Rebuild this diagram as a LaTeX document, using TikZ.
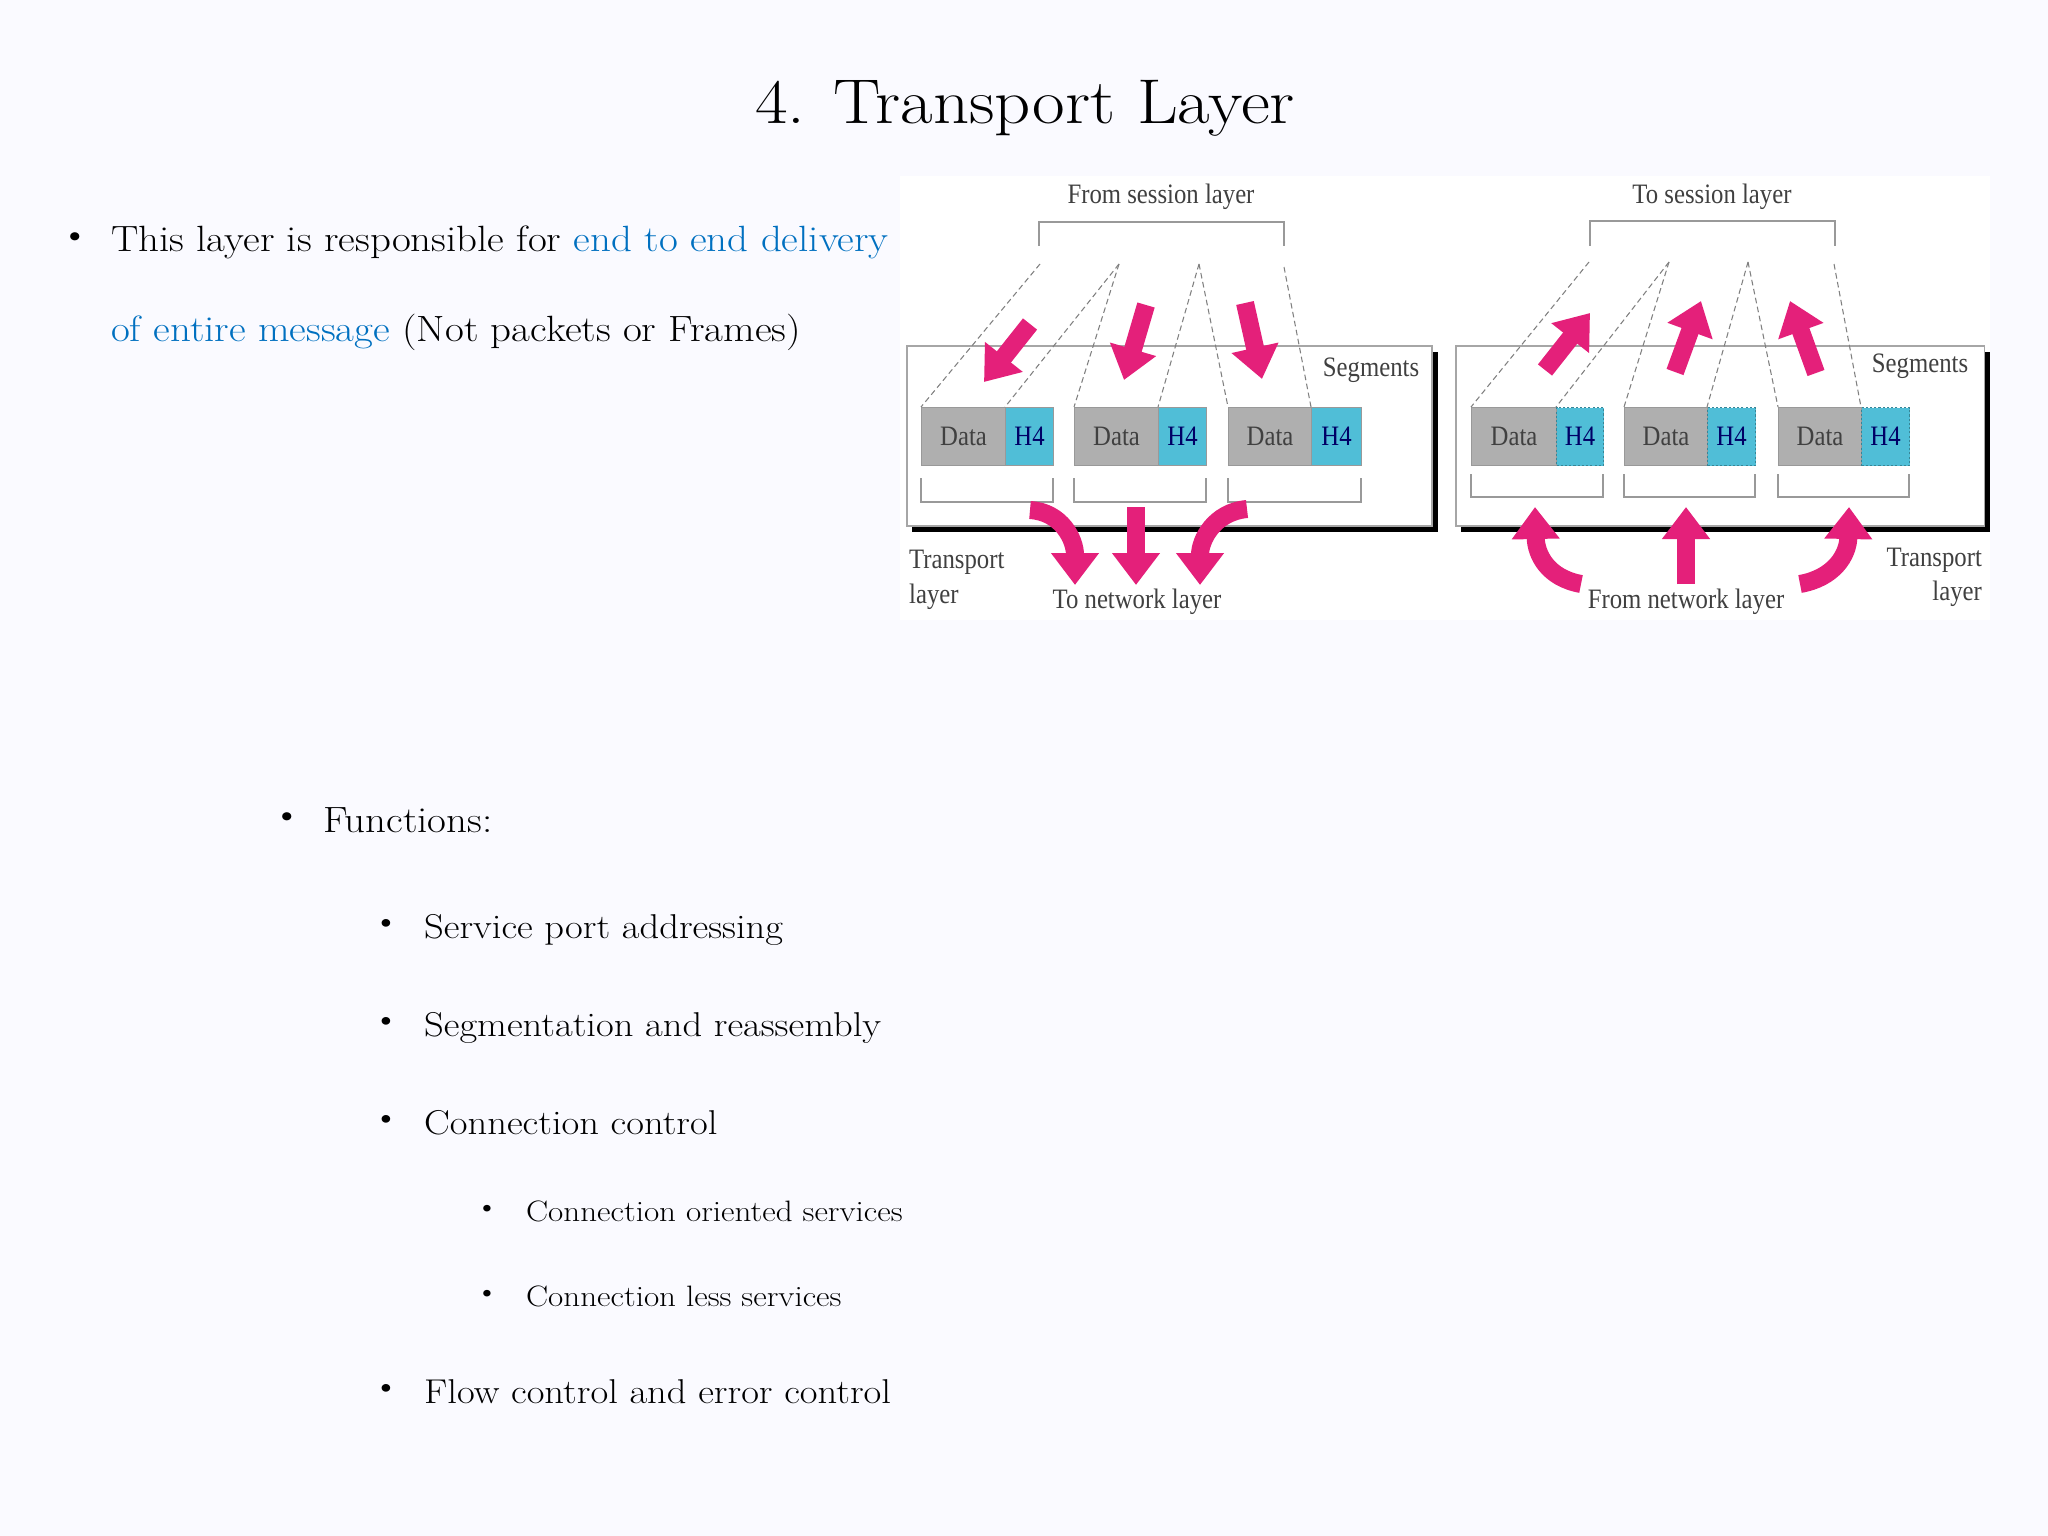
\documentclass[tikz,border=0pt]{standalone}
\usepackage{fontspec}
\setmainfont{Latin Modern Roman}[FakeStretch=1.12]
\newfontfamily\diag{Liberation Serif}
\usetikzlibrary{arrows.meta}
\definecolor{pinkA}{RGB}{228,32,122}
\definecolor{blueT}{RGB}{0,112,192}
\definecolor{hcyan}{RGB}{80,190,215}
\definecolor{dgray}{RGB}{175,175,175}
\begin{document}
\begin{tikzpicture}[x=0.05cm,y=-0.05cm,
  body/.style={anchor=base west,inner sep=0,font=\fontsize{52}{60}\selectfont},
  lvtwo/.style={anchor=base west,inner sep=0,font=\fontsize{49}{55}\selectfont},
  lvthree/.style={anchor=base west,inner sep=0,font=\fontsize{42}{46}\selectfont},
  lab/.style={inner sep=0,font=\diag\fontsize{40}{44}\selectfont,text=black!75,xscale=0.88},
  datab/.style={fill=dgray,draw=gray!80,line width=1.5pt},
  hb/.style={fill=hcyan,draw=gray!80,line width=1.5pt},
  hbd/.style={fill=hcyan,draw=hcyan!70!black,line width=1.5pt,dashed},
  dl/.style={draw=gray,line width=1.5pt,dash pattern=on 8pt off 5pt},
  brk/.style={draw=gray!80,line width=1.5pt},
  parr/.style={draw=pinkA,line width=0.9cm,-{Triangle[length=1.6cm 0,width=2.3cm 0]}},
  panel/.style={draw=gray!70,fill=white,line width=1.5pt}]
\useasboundingbox (0,0) rectangle (2048,1536);
\fill[white!98!blue] (0,0) rectangle (2048,1536);
% title and text
\node[anchor=base,inner sep=0,font=\fontsize{90}{100}\selectfont] (title) at (1025,124) {4. Transport Layer};
\node[body] (b1) at (60,246) {\textbullet};
\node[body] (t1) at (111,252) {This layer is responsible for \textcolor{blueT}{end to end delivery}};
\node[body] (t2) at (111,341) {\textcolor{blueT}{of entire message} (Not packets or Frames)};
\node[body] (b2) at (272,826) {\textbullet};
\node[body] (f) at (323,832) {Functions:};
\foreach \y/\t [count=\i] in {938/Service port addressing,1036/Segmentation and reassembly,1134/Connection control,1403/Flow control and error control}{
  \node[lvtwo] (bl\i) at (372,\y-6) {\textbullet};
  \node[lvtwo] (l\i) at (424,\y) {\t};}
\foreach \y/\t [count=\i] in {1221/Connection oriented services,1306/Connection less services}{
  \node[lvthree] (bm\i) at (475,\y-5) {\textbullet};
  \node[lvthree] (m\i) at (526,\y) {\t};}
% diagram background
\fill[white] (900,176) rectangle (1990,620);
% ===== left panel =====
\fill[black] (912,352) rectangle (1438,532);
\draw[panel] (907,346) rectangle (1432,526);
\draw[brk] (1039,246) -- (1039,222) -- (1284,222) -- (1284,246);
\node[lab] (fsl) at (1161,197) {From session layer};
\foreach \a/\b/\c [count=\i] in {921/1005/1053,1074/1158/1206,1228/1311/1361}{
  \node[datab,minimum width=(\b-\a)*0.05cm,minimum height=2.9cm,anchor=north west,inner sep=0] (Ld\i) at (\a,407) {};
  \node[hb,minimum width=(\c-\b)*0.05cm,minimum height=2.9cm,anchor=north west,inner sep=0] (Lh\i) at (\b,407) {};
  \node[lab] at (Ld\i) {Data};
  \node[lab,text=blue!40!black] at (Lh\i) {H4};
  \draw[brk] (\a,478) -- (\a,502) -- (\c,502) -- (\c,478);}
\coordinate (LP0) at (1040,264); \coordinate (LP1) at (1119,264);
\coordinate (LP2) at (1199,264); \coordinate (LP3) at (1284,267);
\draw[dl] (LP0) -- (Ld1.north west);
\draw[dl] (LP1) -- (Lh1.north west); \draw[dl] (LP1) -- (Ld2.north west);
\draw[dl] (LP2) -- (Lh2.north west); \draw[dl] (LP2) -- (Ld3.north west);
\draw[dl] (LP3) -- (Lh3.north west);
\coordinate (la1s) at (1030,324); \coordinate (la1e) at (984,382);
\coordinate (la2s) at (1146,305); \coordinate (la2e) at (1124,380);
\coordinate (la3s) at (1245,303); \coordinate (la3e) at (1262,379);
\draw[parr] (la1s) -- (la1e);
\draw[parr] (la2s) -- (la2e);
\draw[parr] (la3s) -- (la3e);
\coordinate (lb1s) at (1030,510); \coordinate (lb1e) at (1075,585);
\coordinate (lb2s) at (1136,507); \coordinate (lb2e) at (1136,585);
\coordinate (lb3s) at (1247,509); \coordinate (lb3e) at (1200,585);
\draw[parr] (lb1s) .. controls (1062,512) and (1075,540) .. (lb1e);
\draw[parr] (lb2s) -- (lb2e);
\draw[parr] (lb3s) .. controls (1214,512) and (1200,540) .. (lb3e);
\node[lab] (lseg) at (1371,370) {Segments};
\node[lab,anchor=west] (ltr) at (909,562) {Transport};
\node[lab,anchor=west] (lly) at (909,597) {layer};
\node[lab] (tnl) at (1137,602) {To network layer};
% ===== right panel =====
\fill[black] (1461,352) rectangle (1990,532);
\draw[panel] (1456,346) rectangle (1984,526);
\draw[brk] (1590,246) -- (1590,221) -- (1835,221) -- (1835,246);
\node[lab] (tsl) at (1712,197) {To session layer};
\foreach \a/\b/\c [count=\i] in {1471/1556/1603,1624/1707/1755,1778/1861/1909}{
  \node[datab,minimum width=(\b-\a)*0.05cm,minimum height=2.9cm,anchor=north west,inner sep=0] (Rd\i) at (\a,407) {};
  \node[hbd,minimum width=(\c-\b)*0.05cm,minimum height=2.9cm,anchor=north west,inner sep=0] (Rh\i) at (\b,407) {};
  \node[lab] at (Rd\i) {Data};
  \node[lab,text=blue!40!black] at (Rh\i) {H4};
  \draw[brk] (\a,474) -- (\a,497) -- (\c,497) -- (\c,474);}
\coordinate (RP0) at (1589,262); \coordinate (RP1) at (1669,262);
\coordinate (RP2) at (1748,262); \coordinate (RP3) at (1834,264);
\draw[dl] (RP0) -- (Rd1.north west);
\draw[dl] (RP1) -- (Rh1.north west); \draw[dl] (RP1) -- (Rd2.north west);
\draw[dl] (RP2) -- (Rh2.north west); \draw[dl] (RP2) -- (Rd3.north west);
\draw[dl] (RP3) -- (Rh3.north west);
\coordinate (ra1s) at (1545,370); \coordinate (ra1e) at (1590,313);
\coordinate (ra2s) at (1675,372); \coordinate (ra2e) at (1701,301);
\coordinate (ra3s) at (1816,373); \coordinate (ra3e) at (1790,301);
\draw[parr] (ra1s) -- (ra1e);
\draw[parr] (ra2s) -- (ra2e);
\draw[parr] (ra3s) -- (ra3e);
\coordinate (rb1s) at (1581,584); \coordinate (rb1e) at (1535,507);
\coordinate (rb2s) at (1686,584); \coordinate (rb2e) at (1686,507);
\coordinate (rb3s) at (1800,584); \coordinate (rb3e) at (1849,507);
\draw[parr] (rb1s) .. controls (1548,578) and (1536,555) .. (rb1e);
\draw[parr] (rb2s) -- (rb2e);
\draw[parr] (rb3s) .. controls (1834,578) and (1848,555) .. (rb3e);
\node[lab] (rseg) at (1920,366) {Segments};
\node[lab,anchor=east] (rtr) at (1982,560) {Transport};
\node[lab,anchor=east] (rly) at (1982,594) {layer};
\node[lab] (fnl) at (1686,602) {From network layer};
\end{tikzpicture}
\end{document}
